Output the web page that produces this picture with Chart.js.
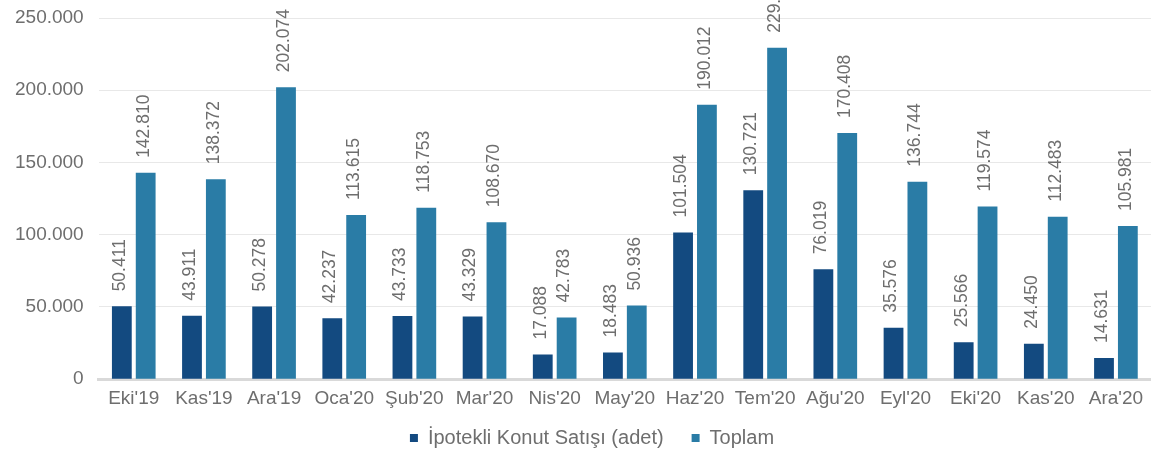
<!DOCTYPE html>
<html>
<head>
<meta charset="utf-8">
<script src="https://cdn.jsdelivr.net/npm/chart.js@4/dist/chart.umd.min.js"></script>
<style>
  html, body { margin: 0; padding: 0; background: #fff; overflow: hidden; }
  #wrap { width: 1151px; height: 453px; }
</style>
</head>
<body>
<div id="wrap"><canvas id="barChart"></canvas></div>
<script>
const months = ["Eki'19", "Kas'19", "Ara'19", "Oca'20", "Şub'20", "Mar'20", "Nis'20", "May'20",
  "Haz'20", "Tem'20", "Ağu'20", "Eyl'20", "Eki'20", "Kas'20", "Ara'20"]
const ipotekli = [50411, 43911, 50278, 42237, 43733, 43329, 17088, 18483, 101504, 130721, 76019, 35576, 25566, 24450, 14631]
const toplam = [142810, 138372, 202074, 113615, 118753, 108670, 42783, 50936, 190012, 229357, 170408, 136744, 119574, 112483, 105981]
const yTicks = [0, 50000, 100000, 150000, 200000, 250000]

const FONT = '"Liberation Sans", Arial, sans-serif'
const textGray = '#6e6e6e'

// 250000 -> "250.000"
function fmt(v){
  return String(v).replace(/\B(?=(\d{3})+(?!\d))/g, '.')
}

// vertical value labels above each bar
const barLabels = {
  id: 'barLabels',
  afterDatasetsDraw(chart){
    const ctx = chart.ctx
    ctx.save()
    ctx.font = '17.5px ' + FONT
    ctx.fillStyle = textGray
    ctx.textAlign = 'left'
    ctx.textBaseline = 'middle'
    chart.data.datasets.forEach((ds, i)=>{
      chart.getDatasetMeta(i).data.forEach((bar, j)=>{
        ctx.save()
        ctx.translate(bar.x - 2, bar.y - 15)
        ctx.rotate(-Math.PI / 2)
        ctx.fillText(fmt(ds.data[j]), 0, 0)
        ctx.restore()
      })
    })
    ctx.restore()
  }
}

// nudge the legend up and right so it sits like in the original
const legendShift = {
  id: 'legendShift',
  afterLayout(chart){
    const lg = chart.legend
    if(lg){
      lg.top -= 10
      lg.bottom -= 10
      lg.left += 14
      lg.right += 14
    }
  }
}

window.onload = ()=>{
  const ctx = document.getElementById('barChart').getContext('2d')
  new Chart(ctx, {
    type: 'bar',
    data: {
      labels: months,
      datasets: [
        { label: 'İpotekli Konut Satışı (adet)', data: ipotekli, backgroundColor: '#134a80' },
        { label: 'Toplam', data: toplam, backgroundColor: '#2a7ca6' }
      ]
    },
    options: {
      responsive: true,
      maintainAspectRatio: false,
      animation: false,
      layout: { padding: { top: 18, right: -5, left: 0, bottom: -15 } },
      datasets: { bar: { categoryPercentage: 0.68, barPercentage: 0.83 } },
      plugins: {
        tooltip: { enabled: false },
        legend: {
          position: 'bottom',
          labels: {
            boxWidth: 8, boxHeight: 8, padding: 28,
            color: textGray,
            font: { family: FONT, size: 20 }
          }
        }
      },
      scales: {
        x: {
          grid: { display: false },
          border: { color: '#d9d9d9', width: 3 },
          ticks: { color: textGray, font: { family: FONT, size: 19 }, padding: 0, maxRotation: 0 }
        },
        y: {
          min: 0, max: 250000,
          afterBuildTicks: (axis)=>{ axis.ticks = yTicks.map(v=>({ value: v })) },
          afterFit: (axis)=>{ axis.paddingTop = 0; axis.paddingBottom = 0 },
          grid: { color: '#e8e8e8', drawTicks: false },
          border: { display: false },
          ticks: { color: textGray, font: { family: FONT, size: 19 }, padding: 15, callback: v=>fmt(v) }
        }
      }
    },
    plugins: [barLabels, legendShift]
  })
}
</script>
</body>
</html>
